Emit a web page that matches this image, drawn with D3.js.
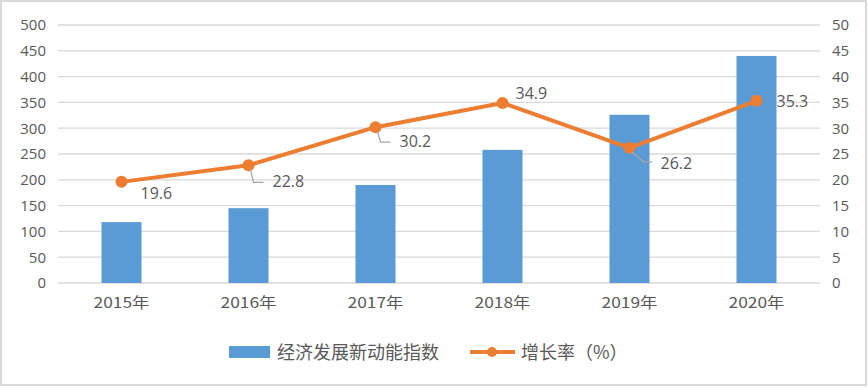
<!DOCTYPE html>
<html>
<head>
<meta charset="utf-8">
<script src="https://cdn.jsdelivr.net/npm/d3@7"></script>
<style>
  body { margin: 0; background: #fff; }
  text { font-family: "Noto Sans CJK SC", "Noto Sans", sans-serif; fill: #595959; }
</style>
</head>
<body>
<div id="chart"></div>
<script>
// data
const years = ['2015年', '2016年', '2017年', '2018年', '2019年', '2020年'];
const indexValues = [118, 145, 190, 258, 326, 440];
const growthRates = [19.6, 22.8, 30.2, 34.9, 26.2, 35.3];
const leftTicks = [0, 50, 100, 150, 200, 250, 300, 350, 400, 450, 500];
const rightTicks = [0, 5, 10, 15, 20, 25, 30, 35, 40, 45, 50];

const W = 868, H = 388;
const margin = {top: 25, right: 48, bottom: 105, left: 58};

const svg = d3.select('#chart').append('svg')
    .attr('width', W).attr('height', H);

// outer frame
svg.append('rect')
    .attr('x', 1).attr('y', 1).attr('width', W - 3).attr('height', H - 4)
    .attr('fill', '#fff').attr('stroke', '#d9d9d9').attr('stroke-width', 2);

const x = d3.scaleBand().domain(years)
    .range([margin.left, W - margin.right]).paddingInner(0.685).paddingOuter(0.3425);
const yL = d3.scaleLinear().domain([0, 500]).range([H - margin.bottom, margin.top]);
const yR = d3.scaleLinear().domain([0, 50]).range([H - margin.bottom, margin.top]);

// gridlines
svg.append('g').selectAll('line').data(leftTicks).join('line')
    .attr('x1', margin.left).attr('x2', W - margin.right)
    .attr('y1', d => yL(d)).attr('y2', d => yL(d))
    .attr('stroke', '#d9d9d9').attr('stroke-width', 1.3);

// left axis
const axL = svg.append('g')
    .attr('transform', `translate(${margin.left},0)`)
    .call(d3.axisLeft(yL).tickValues(leftTicks).tickSize(0).tickPadding(12));
axL.select('.domain').remove();
axL.selectAll('text').style('font-size', '15px').attr('fill', '#595959')
    .style('font-family', '"Open Sans", sans-serif');

// right axis
const axR = svg.append('g')
    .attr('transform', `translate(${W - margin.right},0)`)
    .call(d3.axisRight(yR).tickValues(rightTicks).tickSize(0).tickPadding(12));
axR.select('.domain').remove();
axR.selectAll('text').style('font-size', '15px').attr('fill', '#595959')
    .style('font-family', '"Open Sans", sans-serif');

// x axis
const axX = svg.append('g')
    .attr('transform', `translate(0,${H - margin.bottom})`)
    .call(d3.axisBottom(x).tickSize(0).tickPadding(14));
axX.select('.domain').remove();
axX.selectAll('text').style('font-size', '15px').attr('fill', '#595959')
    .attr('textLength', 56).attr('lengthAdjust', 'spacingAndGlyphs');

// bars
svg.append('g').selectAll('rect').data(indexValues).join('rect')
    .attr('x', (d, i) => x(years[i]))
    .attr('y', d => yL(d))
    .attr('width', x.bandwidth())
    .attr('height', d => yL(0) - yL(d))
    .attr('fill', '#5b9bd5');

// growth line
const cx = i => x(years[i]) + x.bandwidth() / 2;
const line = d3.line().x((d, i) => cx(i)).y(d => yR(d));
svg.append('path').datum(growthRates)
    .attr('d', line).attr('fill', 'none')
    .attr('stroke', '#ed7d31').attr('stroke-width', 4).attr('stroke-linejoin', 'round');

svg.append('g').selectAll('circle').data(growthRates).join('circle')
    .attr('cx', (d, i) => cx(i)).attr('cy', d => yR(d)).attr('r', 6)
    .attr('fill', '#ed7d31');

// data label placement, leader: [bend dx, bend dy, end dx]
const labelPos = [
  {dx: 19, dy: 17, leader: null},
  {dx: 24, dy: 22, leader: [5, 17, 15]},
  {dx: 24, dy: 20, leader: [5, 15, 15]},
  {dx: 13, dy: -4, leader: null},
  {dx: 31, dy: 21, leader: [14, 14, 23]},
  {dx: 20, dy: 6, leader: null}
];
const lab = svg.append('g');
growthRates.forEach((v, i) => {
  const px = cx(i), py = yR(v), p = labelPos[i];
  if (p.leader) {
    const [bx, by, ex] = p.leader;
    lab.append('path')
      .attr('d', `M${px + 2},${py + 4} L${px + bx},${py + by} L${px + ex},${py + by}`)
      .attr('fill', 'none').attr('stroke', '#a6a6a6').attr('stroke-width', 1.3);
  }
  lab.append('text')
    .attr('x', px + p.dx).attr('y', py + p.dy)
    .style('font-size', '16px').style('font-family', '"Open Sans", sans-serif')
    .attr('fill', '#404040')
    .text(v.toFixed(1));
});

// legend
const lg = svg.append('g');
lg.append('rect').attr('x', 229).attr('y', 346).attr('width', 41).attr('height', 12).attr('fill', '#5b9bd5');
lg.append('text').attr('x', 277).attr('y', 359).style('font-size', '18px').text('经济发展新动能指数');
lg.append('line').attr('x1', 470).attr('x2', 515).attr('y1', 352).attr('y2', 352)
    .attr('stroke', '#ed7d31').attr('stroke-width', 4);
lg.append('circle').attr('cx', 492).attr('cy', 352).attr('r', 5).attr('fill', '#ed7d31');
lg.append('text').attr('x', 521).attr('y', 359).style('font-size', '18px').text('增长率（%）');
</script>
</body>
</html>
